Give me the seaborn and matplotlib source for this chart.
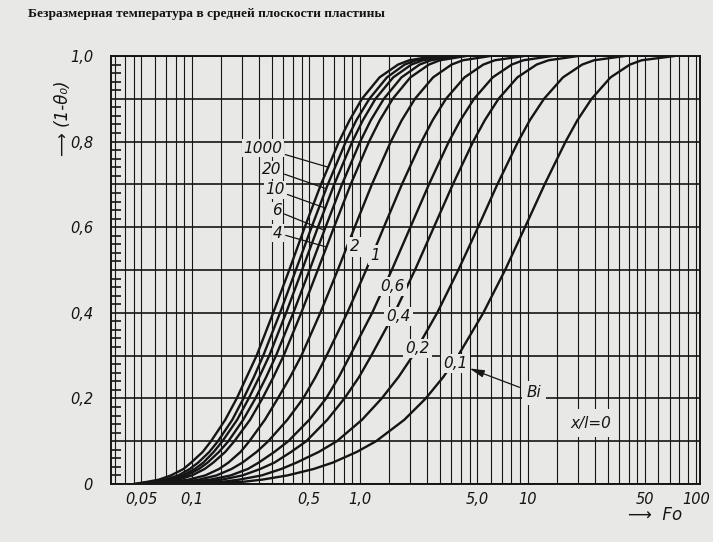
import numpy as np
import pandas as pd
import matplotlib
matplotlib.use("Agg")
import matplotlib.pyplot as plt
from matplotlib.ticker import NullFormatter
import seaborn as sns

levels = [0, 0.005, 0.01, 0.02, 0.035, 0.05, 0.075, 0.1, 0.15, 0.2, 0.25, 0.3,
          0.4, 0.5, 0.6, 0.7, 0.8, 0.85, 0.9, 0.95, 0.98, 0.99, 1.0]

# Fo values for each Bi curve at the levels above
fo_1000 = [0.045, 0.054, 0.0635, 0.075, 0.089, 0.099, 0.116, 0.13, 0.158, 0.185, 0.212, 0.243,
           0.305, 0.38, 0.47, 0.587, 0.752, 0.869, 1.03, 1.31, 1.69, 1.97, 2.8]
fo_20 = [0.046, 0.057, 0.069, 0.083, 0.097, 0.109, 0.127, 0.143, 0.174, 0.203, 0.234, 0.266,
         0.335, 0.416, 0.516, 0.645, 0.826, 0.954, 1.14, 1.45, 1.85, 2.16, 3.1]
fo_10 = [0.047, 0.059, 0.073, 0.088, 0.104, 0.117, 0.135, 0.152, 0.186, 0.218, 0.252, 0.289,
         0.364, 0.453, 0.563, 0.704, 0.902, 1.043, 1.24, 1.58, 2.03, 2.37, 3.4]
fo_6 = [0.048, 0.062, 0.077, 0.093, 0.110, 0.124, 0.145, 0.165, 0.202, 0.239, 0.277, 0.317,
        0.402, 0.502, 0.625, 0.783, 1.005, 1.163, 1.39, 1.77, 2.27, 2.65, 3.8]
fo_4 = [0.05, 0.066, 0.083, 0.10, 0.119, 0.134, 0.158, 0.179, 0.222, 0.263, 0.306, 0.352,
        0.448, 0.562, 0.702, 0.882, 1.135, 1.315, 1.57, 2.0, 2.58, 3.0, 4.3]
fo_2 = [0.052, 0.075, 0.095, 0.12, 0.145, 0.165, 0.195, 0.22, 0.272, 0.325, 0.385, 0.449,
        0.582, 0.739, 0.932, 1.18, 1.53, 1.778, 2.13, 2.73, 3.52, 4.11, 6.0]
fo_1 = [0.055, 0.088, 0.11, 0.14, 0.172, 0.20, 0.243, 0.285, 0.37, 0.46, 0.545, 0.634,
        0.842, 1.09, 1.39, 1.78, 2.33, 2.715, 3.26, 4.2, 5.44, 6.37, 9.5]
fo_06 = [0.058, 0.10, 0.128, 0.17, 0.215, 0.25, 0.31, 0.375, 0.50, 0.63, 0.75, 0.875,
         1.185, 1.55, 2.0, 2.58, 3.39, 3.973, 4.79, 6.18, 8.03, 9.42, 14]
fo_04 = [0.06, 0.115, 0.15, 0.2, 0.255, 0.31, 0.39, 0.48, 0.64, 0.81, 0.99, 1.17,
         1.61, 2.13, 2.76, 3.58, 4.73, 5.55, 6.7, 8.67, 11.3, 13.3, 20]
fo_02 = [0.065, 0.15, 0.19, 0.26, 0.34, 0.42, 0.57, 0.73, 1.03, 1.35, 1.70, 2.07,
         2.89, 3.86, 5.06, 6.59, 8.76, 10.29, 12.5, 16.2, 21.1, 24.8, 38]
fo_01 = [0.07, 0.2, 0.26, 0.37, 0.53, 0.69, 0.96, 1.25, 1.84, 2.47, 3.14, 3.85,
         5.44, 7.33, 9.63, 12.6, 16.8, 19.76, 24.0, 31.1, 40.6, 47.7, 75]

bi_names = ["1000", "20", "10", "6", "4", "2", "1", "0,6", "0,4", "0,2", "0,1"]
curves = [fo_1000, fo_20, fo_10, fo_6, fo_4, fo_2, fo_1, fo_06, fo_04, fo_02, fo_01]

# curve label positions (Fo, level)
group_labels = ["1000", "20", "10", "6", "4"]
group_text_pos = [(0.265, 0.785), (0.30, 0.734), (0.312, 0.687), (0.32, 0.638), (0.326, 0.586)]
group_leader_end = [(0.65, 0.74), (0.63, 0.69), (0.62, 0.645), (0.615, 0.593), (0.63, 0.554)]
inline_labels = ["2", "1", "0,6", "0,4", "0,2", "0,1"]
inline_pos = [(0.93, 0.554), (1.24, 0.535), (1.56, 0.461), (1.70, 0.391), (2.20, 0.317), (3.72, 0.282)]

xtick_vals = [0.05, 0.1, 0.5, 1.0, 5.0, 10, 50, 100]
xtick_text = ["0,05", "0,1", "0,5", "1,0", "5,0", "10", "50", "100"]
ytick_text = ["0", "", "0,2", "", "0,4", "", "0,6", "", "0,8", "", "1,0"]

rows = []
for name, fo in zip(bi_names, curves):
    for f, t in zip(fo, levels):
        rows.append({"Bi": name, "Fo": f, "T": t})
df = pd.DataFrame(rows)

bg = "#e8e8e6"
ink = "#151515"

sns.set_style("white")
plt.rcParams["font.family"] = ["DejaVu Sans"]

fig = plt.figure(figsize=(7.13, 5.42), dpi=100, facecolor=bg)
ax = fig.add_axes([0.1557, 0.107, 0.826, 0.7897])
ax.set_facecolor(bg)

sns.lineplot(data=df, x="Fo", y="T", hue="Bi", palette={n: ink for n in bi_names},
             estimator=None, legend=False, linewidth=1.7, ax=ax, zorder=3)

ax.set_xscale("log")
ax.set_xlim(0.033, 106)
ax.set_ylim(0, 1.0)

# grid
mults = [1, 1.5, 2, 2.5, 3, 3.5, 4, 4.5, 5, 6, 7, 8, 9]
vgrid = [m * 10.0 ** e for e in range(-2, 3) for m in mults]
vgrid = [v for v in vgrid if 0.034 < v < 105]
ax.set_xticks(vgrid, minor=True)
ax.xaxis.set_minor_formatter(NullFormatter())
ax.set_xticks(xtick_vals)
ax.set_xticklabels(xtick_text, fontstyle="italic", fontsize=10.5, color=ink)
ax.xaxis.grid(True, which="both", color=ink, linewidth=0.8)
ax.tick_params(axis="x", which="both", length=0, pad=6)

ax.set_yticks(np.arange(0, 1.01, 0.1))
ax.set_yticklabels(ytick_text, fontstyle="italic", fontsize=10.5, color=ink)
ax.set_yticks(np.arange(0, 1.001, 0.02), minor=True)
ax.yaxis.set_minor_formatter(NullFormatter())
ax.yaxis.grid(True, which="major", color=ink, linewidth=1.2)
ax.tick_params(axis="y", which="major", length=0, pad=13)
ax.tick_params(axis="y", which="minor", direction="in", length=7, width=1.2, color=ink, left=True)
for s in ax.spines.values():
    s.set_color(ink)
    s.set_linewidth(1.4)
    s.set_visible(True)

ax.set_xlabel("")
ax.set_ylabel("")

# labels of the curves
for name, tp, ep in zip(group_labels, group_text_pos, group_leader_end):
    ax.annotate(name, xy=ep, xytext=tp, fontsize=11, fontstyle="italic", color=ink,
                ha="center", va="center", zorder=5,
                bbox=dict(boxstyle="square,pad=0.1", fc=bg, ec="none"),
                arrowprops=dict(arrowstyle="-", color=ink, lw=0.9, shrinkA=1, shrinkB=0))
for name, p in zip(inline_labels, inline_pos):
    ax.text(p[0], p[1], name, fontsize=11, fontstyle="italic", color=ink, ha="center", va="center",
            zorder=5, bbox=dict(boxstyle="square,pad=0.15", fc=bg, ec="none"))

ax.annotate("Bi", xy=(4.5, 0.27), xytext=(10.9, 0.213), fontsize=11, fontstyle="italic", color=ink,
            ha="center", va="center", zorder=5,
            bbox=dict(boxstyle="square,pad=0.3", fc=bg, ec="none"),
            arrowprops=dict(arrowstyle="-|>,head_length=0.8,head_width=0.2", color=ink, lw=0.9,
                            shrinkA=2, shrinkB=0))
ax.text(23.9, 0.1425, "x/l=0", fontsize=11, fontstyle="italic", color=ink, ha="center", va="center",
        zorder=5, bbox=dict(boxstyle="square,pad=0.4", fc=bg, ec="none"))

fig.text(28 / 713, 1 - 14 / 542, "Безразмерная температура в средней плоскости пластины",
         fontsize=9.7, fontweight="bold", family="Liberation Serif",
         color=ink, ha="left", va="center")
fig.text(63 / 713, 1 - 118 / 542, "⟶ (1-θ₀)", rotation=90, fontsize=12, fontstyle="italic",
         color=ink, ha="center", va="center")
fig.text(655 / 713, 1 - 515 / 542, "⟶  Fo", fontsize=12, fontstyle="italic", color=ink,
         ha="center", va="center")

plt.savefig("out.png", dpi=100, facecolor=bg)
plt.close()
